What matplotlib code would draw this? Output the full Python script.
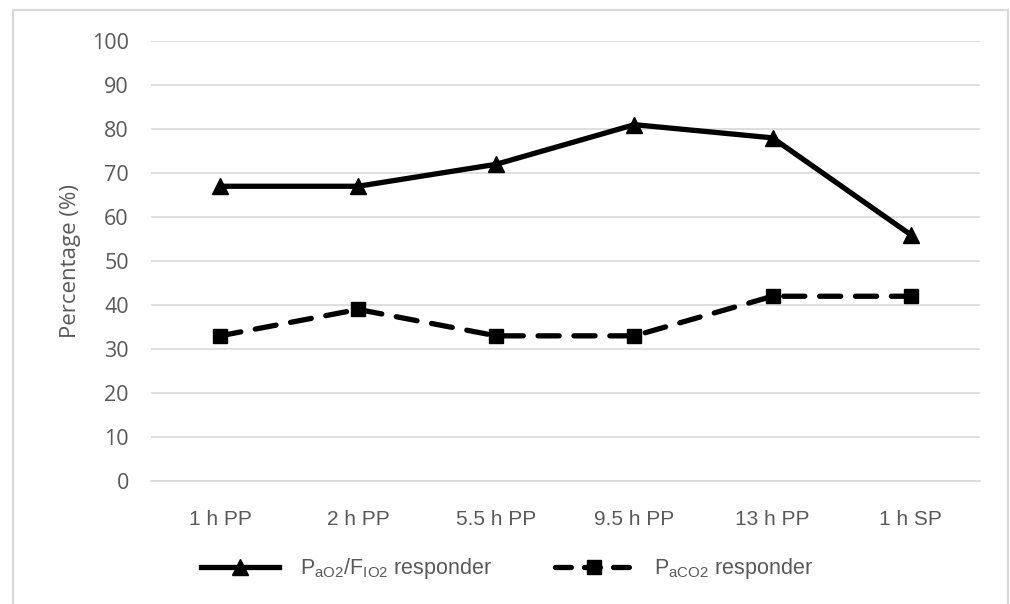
import matplotlib.pyplot as plt
from matplotlib.lines import Line2D
from matplotlib.patches import Rectangle

# chart data
timepoints = ['1 h PP', '2 h PP', '5.5 h PP', '9.5 h PP', '13 h PP', '1 h SP']
pao2_fio2 = [67, 67, 72, 81, 78, 56]
paco2 = [33, 39, 33, 33, 42, 42]
y_ticks = list(range(0, 101, 10))

plt.rcParams['font.family'] = ['Liberation Sans', 'DejaVu Sans']
plt.rcParams['mathtext.fontset'] = 'custom'
plt.rcParams['mathtext.rm'] = 'Liberation Sans'

fig = plt.figure(figsize=(10.1, 6.04), dpi=100)
ax = fig.add_axes([0.1495, 0.2036, 0.8205, 0.7284])

x = list(range(len(timepoints)))
ax.plot(x, pao2_fio2, color='black', lw=3.8, marker='^', ms=11,
        solid_capstyle='round', solid_joinstyle='round', zorder=3)
dash_line, = ax.plot(x, paco2, color='black', lw=3.8, marker='s', ms=10,
                     dash_capstyle='round', zorder=3)
dash_line.set_dashes([4.0, 2.8])

ax.set_xlim(-0.5, len(timepoints) - 0.5)
ax.set_ylim(0, 100)
ax.set_yticks(y_ticks)
ax.set_xticks(x)
ax.set_xticklabels(timepoints, fontsize=15, color='#595959')
ax.set_yticklabels([str(v) for v in y_ticks], fontsize=15.5, color='#595959',
                   family=['Open Sans', 'DejaVu Sans'])
ax.tick_params(axis='both', length=0)
ax.tick_params(axis='x', pad=21)
ax.tick_params(axis='y', pad=16)
ax.grid(axis='y', color='#d9d9d9', lw=1.2)
ax.set_axisbelow(True)
for side in ['top', 'right', 'left']:
    ax.spines[side].set_visible(False)
ax.spines['bottom'].set_color('#d9d9d9')
ax.spines['bottom'].set_linewidth(1.2)
ax.set_ylabel('Percentage (%)', fontsize=16, color='#595959',
              family=['Open Sans', 'DejaVu Sans'], labelpad=8)

# legend
h1 = Line2D([], [], color='black', lw=3.8, marker='^', ms=11)
h2 = Line2D([], [], color='black', lw=3.8, marker='s', ms=10, dash_capstyle='round')
h2.set_dashes([3.0, 2.5])
leg = fig.legend([h1, h2],
                 [r'P$_{\mathrm{aO2}}$/F$_{\mathrm{IO2}}$ responder',
                  r'P$_{\mathrm{aCO2}}$ responder'],
                 loc='center', bbox_to_anchor=(0.502, 0.058), ncol=2,
                 frameon=False, fontsize=15.5, handlelength=3.6,
                 columnspacing=2.9, handletextpad=1.0)
for t in leg.get_texts():
    t.set_color('#595959')

# chart border
fig.patches.append(Rectangle((13 / 1010, -0.01), 995 / 1010, 1 - 10 / 604 + 0.01,
                             transform=fig.transFigure, fill=False,
                             edgecolor='#d9d9d9', lw=1.5))

fig.savefig('out.png', dpi=100)
